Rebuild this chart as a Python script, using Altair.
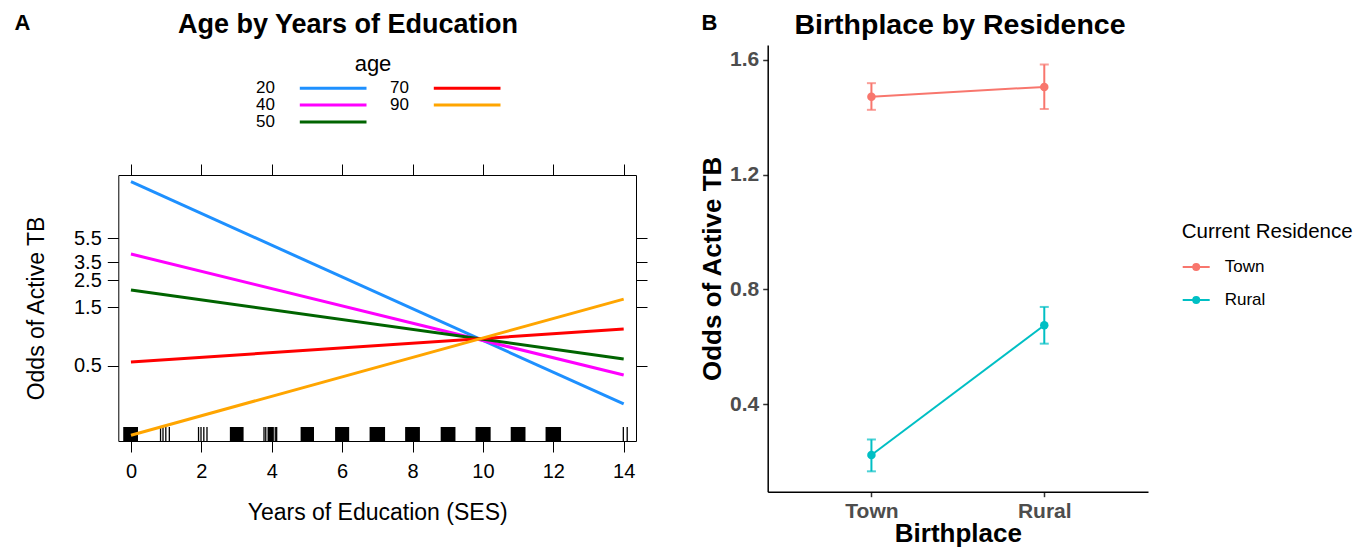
import altair as alt
import pandas as pd

FONT = "Liberation Sans"
W, H = 1356, 540

# ---------------- Panel A data ----------------
education_years = [0, 14]
age_levels = ["20", "40", "50", "70", "90"]
age_colors = ["#1E90FF", "#FF00FF", "#006400", "#FF0000", "#FFA500"]
odds_at_0 = [15.96, 4.09, 2.08, 0.535, 0.135]
odds_at_14 = [0.243, 0.419, 0.566, 0.996, 1.75]
odds_ticks = [0.5, 1.5, 2.5, 3.5, 5.5]
edu_ticks = [0, 2, 4, 6, 8, 10, 12, 14]
rug_block_start = [-0.22, 2.81, 3.88, 4.82, 5.80, 6.78, 7.79, 8.80, 9.79, 10.79, 11.78]
rug_block_end = [0.20, 3.20, 4.06, 5.20, 6.20, 7.22, 8.21, 9.22, 10.22, 11.21, 12.22]
rug_line_x = [0.84, 0.91, 0.99, 1.09, 1.92, 1.99, 2.07, 2.16, 3.78, 3.83, 4.10, 4.14, 13.99, 14.10]

# ---------------- Panel B data ----------------
birthplace = ["Town", "Rural"]
residence = ["Town", "Rural"]
res_colors = ["#F8766D", "#00BFC4"]
town_res_odds = [1.472, 1.506]
town_res_lo = [1.426, 1.429]
town_res_hi = [1.519, 1.584]
rural_res_odds = [0.223, 0.675]
rural_res_lo = [0.166, 0.611]
rural_res_hi = [0.277, 0.739]
b_ticks = [0.4, 0.8, 1.2, 1.6]

# ---------------- tables ----------------
rows = []
for a, v0, v14 in zip(age_levels, odds_at_0, odds_at_14):
    rows.append({"edu": education_years[0], "odds": v0, "age": a})
    rows.append({"edu": education_years[1], "odds": v14, "age": a})
dfA = pd.DataFrame(rows)
dfRugBlocks = pd.DataFrame({"x0": rug_block_start, "x1": rug_block_end})
dfRugLines = pd.DataFrame({"x": rug_line_x})

rowsB = []
for i, bp in enumerate(birthplace):
    rowsB.append({"birth": bp, "res": "Town", "odds": town_res_odds[i],
                  "lo": town_res_lo[i], "hi": town_res_hi[i]})
for i, bp in enumerate(birthplace):
    rowsB.append({"birth": bp, "res": "Rural", "odds": rural_res_odds[i],
                  "lo": rural_res_lo[i], "hi": rural_res_hi[i]})
dfB = pd.DataFrame(rowsB)

# ---------------- Panel A ----------------
xA = alt.Scale(domain=[-0.36, 14.35], range=[110.3, 628], nice=False, zero=False)
yA = alt.Scale(type="log", domain=[0.121, 18.1], range=[433, 167], nice=False)
colA = alt.Scale(domain=age_levels, range=age_colors)

axis_common = dict(grid=False, domainColor="black", tickColor="black", domainWidth=1,
                   tickWidth=1, tickSize=11, labelFont=FONT, titleFont=FONT,
                   labelColor="black", titleColor="black", labelFlush=False,
                   labelOverlap=False)

ax_bottom_A = alt.Axis(orient="bottom", offset=-(H - 433), values=edu_ticks, format="d",
                       labelFontSize=20, labelPadding=9,
                       title="Years of Education (SES)", titleFontSize=23,
                       titleFontWeight="normal", titleY=71, titleBaseline="middle",
                       **axis_common)
ax_left_A = alt.Axis(orient="left", offset=-110.3, values=odds_ticks, format=".1f",
                     labelFontSize=20, labelPadding=6,
                     title="Odds of Active TB", titleFontSize=23,
                     titleFontWeight="normal", titleX=-82, titleBaseline="middle",
                     **axis_common)
ax_top_A = alt.Axis(orient="top", offset=-167, values=edu_ticks, labels=False,
                    title="Age by Years of Education", titleFontSize=27,
                    titleFontWeight="bold", titleX=339.5, titleY=-151,
                    titleAlign="center", titleBaseline="middle", **axis_common)
ax_right_A = alt.Axis(orient="right", offset=628 - W, values=odds_ticks, labels=False,
                      title="A", titleFontSize=22, titleFontWeight="bold",
                      titleAngle=0, titleX=-614, titleY=14, titleAlign="center",
                      titleBaseline="middle", **axis_common)

legendA = alt.Legend(orient="none", legendX=231, legendY=45.5, direction="vertical",
                     columns=2, values=age_levels,
                     title="age", titleFont=FONT, titleFontSize=22,
                     titleFontWeight="normal", titleColor="black",
                     titleAnchor="middle", titlePadding=4,
                     labelFont=FONT, labelFontSize=17, labelColor="black",
                     labelOffset=0, symbolType="M10.46,0H23.8", symbolSize=100,
                     symbolStrokeWidth=3, columnPadding=-3, rowPadding=-1, padding=0)

rug_blocks = alt.Chart(dfRugBlocks).mark_rect(color="black").encode(
    x=alt.X("x0:Q", scale=xA, axis=None),
    x2="x1:Q",
    y=alt.value(419), y2=alt.value(433),
)
rug_lines = alt.Chart(dfRugLines).mark_rule(color="black", strokeWidth=1.3).encode(
    x=alt.X("x:Q", scale=xA, axis=None),
    y=alt.value(419), y2=alt.value(433),
)
linesA = alt.Chart(dfA).mark_line(strokeWidth=3).encode(
    x=alt.X("edu:Q", scale=xA, axis=ax_bottom_A),
    y=alt.Y("odds:Q", scale=yA, axis=ax_left_A),
    color=alt.Color("age:N", scale=colA, legend=legendA),
)
ghostA = alt.Chart(dfA).mark_line(strokeOpacity=0).encode(
    x=alt.X("edu:Q", scale=xA, axis=ax_top_A),
    y=alt.Y("odds:Q", scale=yA, axis=ax_right_A),
    detail="age:N",
)
panelA = alt.layer(rug_blocks, rug_lines, linesA, ghostA).resolve_axis(
    x="independent", y="independent")

# ---------------- Panel B ----------------
xB = alt.Scale(type="point", domain=birthplace, range=[759.7, 1140], padding=0.6)
yB = alt.Scale(domain=[0.095, 1.652], range=[483.7, 37], nice=False, zero=False)
colB = alt.Scale(domain=residence, range=res_colors)

axisB_common = dict(grid=False, domainColor="black", domainWidth=1.5,
                    tickColor="#333333", tickWidth=1.5, tickSize=5,
                    labelFont=FONT, titleFont=FONT, labelColor="#4D4D4D",
                    labelFontWeight="bold", labelFontSize=21, titleColor="black",
                    titleFontWeight="bold", titleFontSize=26, labelFlush=False,
                    labelOverlap=False)

ax_bottom_B = alt.Axis(orient="bottom", offset=-(H - 483.7), labelAngle=0, labelPadding=4,
                       title="Birthplace", titleY=41.3, titleBaseline="middle",
                       **axisB_common)
ax_left_B = alt.Axis(orient="left", offset=-759.7, values=b_ticks, format=".1f",
                     labelPadding=4, title="Odds of Active TB", titleX=-55.7,
                     titleBaseline="middle", **axisB_common)
ax_top_B = alt.Axis(orient="top", offset=0, domain=False, ticks=False, labels=False,
                    grid=False, title="Birthplace by Residence", titleFont=FONT,
                    titleFontSize=28.5, titleFontWeight="bold", titleColor="black",
                    titleX=951.5, titleY=16, titleAlign="center",
                    titleBaseline="middle")
ax_right_B = alt.Axis(orient="right", offset=0, domain=False, ticks=False,
                      labels=False, grid=False, title="B", titleFont=FONT,
                      titleFontSize=22, titleFontWeight="bold", titleColor="black",
                      titleAngle=0, titleX=709 - 8 - W, titleY=14, titleAlign="center",
                      titleBaseline="middle")

symB = ("M-1,0H1"
        "M-0.22,0A0.22,0.22 0 1,1 0.22,0A0.22,0.22 0 1,1 -0.22,0"
        "M-0.11,0A0.11,0.11 0 1,1 0.11,0A0.11,0.11 0 1,1 -0.11,0")
legendB = alt.Legend(orient="none", legendX=1173.7, legendY=214,
                     title="Current Residence", titleFont=FONT, titleFontSize=20.5,
                     titleFontWeight="normal", titleColor="black", titlePadding=10,
                     labelFont=FONT, labelFontSize=17, labelColor="black",
                     labelOffset=14, symbolType=symB, symbolSize=729,
                     symbolStrokeWidth=2, rowPadding=10, padding=0)

lineB = alt.Chart(dfB).mark_line(strokeWidth=2).encode(
    x=alt.X("birth:N", scale=xB, axis=ax_bottom_B, sort=birthplace),
    y=alt.Y("odds:Q", scale=yB, axis=ax_left_B),
    color=alt.Color("res:N", scale=colB, legend=legendB),
)
errB = alt.Chart(dfB).mark_rule(strokeWidth=2).encode(
    x=alt.X("birth:N", scale=xB, axis=None, sort=birthplace),
    y=alt.Y("lo:Q", scale=yB, axis=None),
    y2="hi:Q",
    color=alt.Color("res:N", scale=colB, legend=None),
)
capLo = alt.Chart(dfB).mark_tick(thickness=2, size=9).encode(
    x=alt.X("birth:N", scale=xB, axis=None, sort=birthplace),
    y=alt.Y("lo:Q", scale=yB, axis=None),
    color=alt.Color("res:N", scale=colB, legend=None),
)
capHi = alt.Chart(dfB).mark_tick(thickness=2, size=9).encode(
    x=alt.X("birth:N", scale=xB, axis=None, sort=birthplace),
    y=alt.Y("hi:Q", scale=yB, axis=None),
    color=alt.Color("res:N", scale=colB, legend=None),
)
pointB = alt.Chart(dfB).mark_point(filled=True, size=72, opacity=1).encode(
    x=alt.X("birth:N", scale=xB, axis=ax_top_B, sort=birthplace),
    y=alt.Y("odds:Q", scale=yB, axis=ax_right_B),
    color=alt.Color("res:N", scale=colB, legend=None),
)
panelB = alt.layer(lineB, errB, capLo, capHi, pointB).resolve_axis(
    x="independent", y="independent")

chart = alt.layer(panelA, panelB).resolve_scale(
    x="independent", y="independent", color="independent"
).properties(
    width=W, height=H, padding=0,
    autosize=alt.AutoSizeParams(type="none"),
).configure(font=FONT).configure_view(stroke=None)

chart.save("out.html", embed_options={"renderer": "svg", "actions": False})
